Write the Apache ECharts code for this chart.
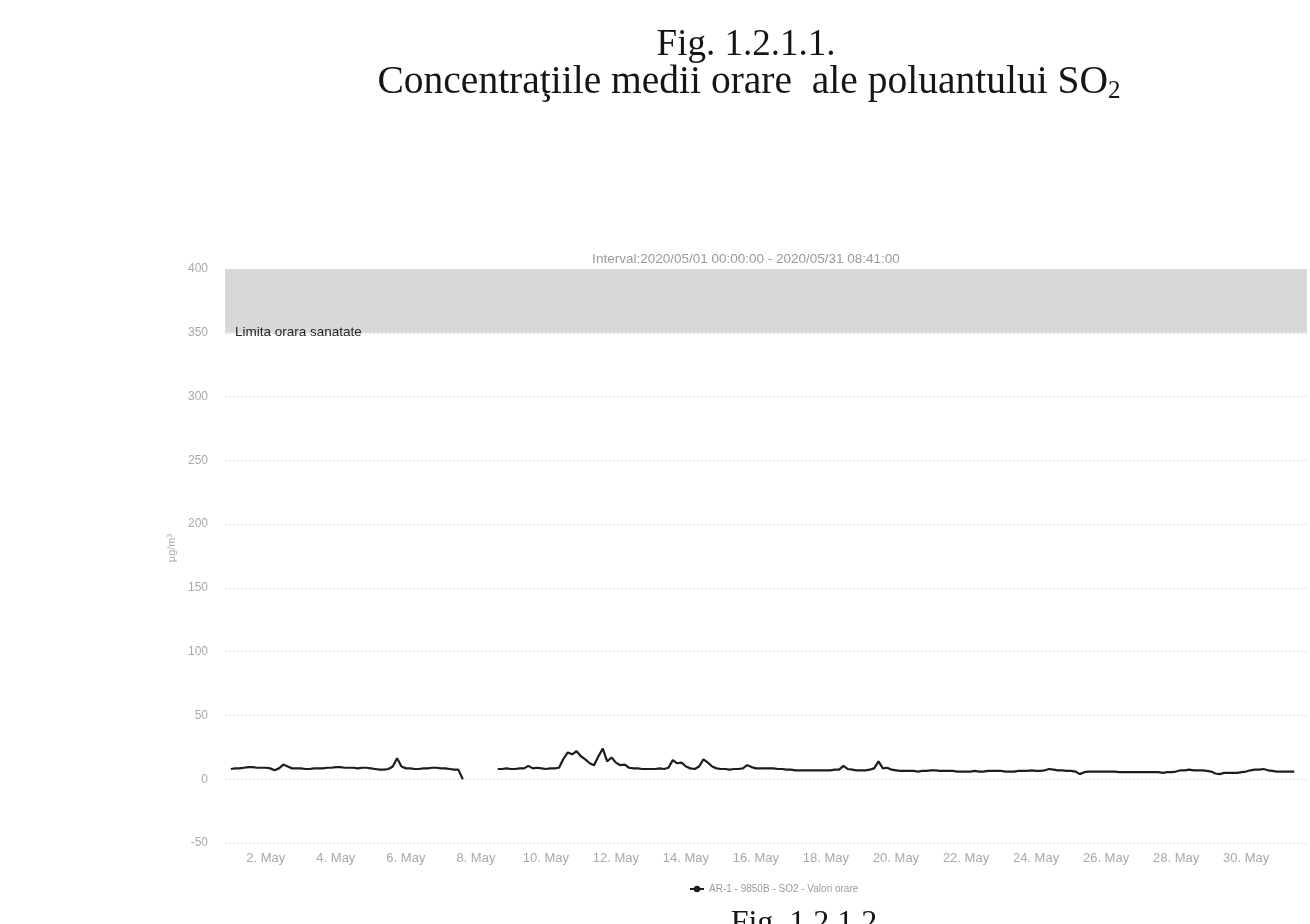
<!DOCTYPE html>
<html>
<head>
<meta charset="utf-8">
<script src="https://cdn.jsdelivr.net/npm/echarts@6/dist/echarts.min.js"></script>
<style>
html,body{margin:0;padding:0;background:#fff;}
#chart{width:1310px;height:924px;}
</style>
</head>
<body>
<div id="chart"></div>
<script>
// ---- data (SO2 hourly averages, read every 3 hours starting 2020/05/01 00:00) ----
const stepHours = 3;
const seriesName = 'AR-1 - 9850B - SO2 - Valori orare';
const monthLabel = 'May';
const yTicks = [-50, 0, 50, 100, 150, 200, 250, 300, 350, 400];
const limitBand = [350, 400];
const limitLabel = 'Limita orara sanatate';
const intervalText = 'Interval:2020/05/01 00:00:00 - 2020/05/31 08:41:00';
const so2 = [
  // May 1
  8, 8.5, 8.5, 9, 9.5, 9.5, 9, 9,
  // May 2
  9, 8.5, 7, 8.5, 11.5, 10, 8.5, 8.5,
  // May 3
  8.5, 8, 8, 8.5, 8.5, 8.5, 9, 9,
  // May 4
  9.5, 9.5, 9, 9, 9, 8.5, 9, 9,
  // May 5
  8.5, 8, 7.5, 7.5, 8, 10, 16.5, 10,
  // May 6
  8.5, 8.5, 8, 8, 8.5, 8.5, 9, 9,
  // May 7
  8.5, 8.5, 8, 7.5, 7.5, 0, null, null,
  // May 8
  null, null, null, null, null, 8, 8, 8.5,
  // May 9
  8, 8, 8.5, 8.5, 10.5, 8.5, 9, 8.5,
  // May 10
  8, 8.5, 8.5, 9, 16, 21, 19.5, 22,
  // May 11
  18, 15.5, 12.5, 11, 18, 24, 14, 17,
  // May 12
  13, 11, 11.5, 9, 8.5, 8.5, 8, 8,
  // May 13
  8, 8, 8.5, 8, 9, 15, 12.5, 13,
  // May 14
  10, 8.5, 8, 10, 15.5, 13, 10, 8.5,
  // May 15
  8, 8, 7.5, 8, 8, 8.5, 11, 9.5,
  // May 16
  8.5, 8.5, 8.5, 8.5, 8.5, 8, 8, 7.5,
  // May 17
  7.5, 7, 7, 7, 7, 7, 7, 7,
  // May 18
  7, 7, 7.5, 7.5, 10.5, 8, 7.5, 7,
  // May 19
  7, 7, 7.5, 8.5, 14, 8.5, 9, 7.5,
  // May 20
  7, 6.5, 6.5, 6.5, 6.5, 6, 6.5, 6.5,
  // May 21
  7, 7, 6.5, 6.5, 6.5, 6.5, 6, 6,
  // May 22
  6, 6, 6.5, 6, 6, 6.5, 6.5, 6.5,
  // May 23
  6.5, 6, 6, 6, 6.5, 6.5, 6.5, 7,
  // May 24
  6.5, 6.5, 7, 8, 7.5, 7, 7, 6.5,
  // May 25
  6.5, 6, 4, 5.5, 6, 6, 6, 6,
  // May 26
  6, 6, 6, 5.5, 5.5, 5.5, 5.5, 5.5,
  // May 27
  5.5, 5.5, 5.5, 5.5, 5.5, 5, 5.5, 5.5,
  // May 28
  6, 7, 7, 7.5, 7, 7, 7, 6.5,
  // May 29
  6, 4.5, 4, 5, 5, 5, 5, 5.5,
  // May 30
  6, 7, 7.5, 7.5, 8, 7, 6.5, 6,
  // May 31
  6, 6, 6, 6
];

// x in days since 2020/05/01 00:00
const lineData = so2.map((v, i) => [i * stepHours / 24, v]);

const chart = echarts.init(document.getElementById('chart'), null, {renderer: 'canvas'});
const sans = 'Liberation Sans, Arial, sans-serif';
const serif = 'Liberation Serif, Times New Roman, serif';

chart.setOption({
  backgroundColor: '#ffffff',
  animation: false,
  title: [
    {
      text: 'Fig. 1.2.1.1.',
      left: 741, textAlign: 'center', top: 22,
      textStyle: {fontFamily: serif, fontSize: 37, fontWeight: 'normal', color: '#151515'}
    },
    {
      text: 'Concentraţiile medii orare  ale poluantului SO{sub|2}',
      left: 744, textAlign: 'center', top: 56,
      textStyle: {
        fontFamily: serif, fontSize: 39.5, fontWeight: 'normal', color: '#151515',
        rich: {sub: {fontFamily: serif, fontSize: 25, color: '#151515', verticalAlign: 'bottom', padding: [18, 0, 0, 0]}}
      }
    },
    {
      text: intervalText,
      left: 741, textAlign: 'center', top: 247,
      textStyle: {fontFamily: sans, fontSize: 13.5, fontWeight: 'normal', color: '#9a9a9a'}
    },
    {
      text: 'Fig. 1.2.1.2.',
      left: 803, textAlign: 'center', top: 903,
      textStyle: {fontFamily: serif, fontSize: 32, fontWeight: 'normal', color: '#151515'}
    }
  ],
  legend: {
    data: [seriesName],
    left: 684, top: 879,
    textStyle: {fontFamily: sans, fontSize: 10, color: '#9a9a9a'},
    itemWidth: 14, itemHeight: 8,
    itemGap: 5
  },
  grid: {left: 225, right: 0, top: 269, bottom: 924 - 843},
  xAxis: {
    type: 'value',
    min: -1 / 6,
    max: 30.74,
    interval: 1 / 6,
    axisLine: {show: false},
    axisTick: {show: false},
    splitLine: {show: false},
    axisLabel: {
      fontFamily: sans, fontSize: 13, color: '#a8a8a8', margin: 9,
      formatter: function (v) {
        const d = Math.round(v);
        if (Math.abs(v - d) < 0.01 && d >= 0 && d % 2 === 1) {
          return (d + 1) + '. ' + monthLabel;
        }
        return '';
      }
    }
  },
  yAxis: {
    type: 'value',
    min: yTicks[0],
    max: yTicks[yTicks.length - 1],
    interval: 50,
    name: 'µg/m³',
    nameLocation: 'middle',
    nameRotate: 90,
    nameGap: 48,
    nameTextStyle: {fontFamily: sans, fontSize: 11, color: '#a8a8a8', padding: [0, 0, 0, 16]},
    axisLine: {show: false},
    axisTick: {show: false},
    axisLabel: {fontFamily: sans, fontSize: 12, color: '#a8a8a8', margin: 17},
    splitLine: {show: true, lineStyle: {color: '#dedede', type: [2, 2], width: 1}}
  },
  series: [{
    name: seriesName,
    type: 'line',
    data: lineData,
    showSymbol: false,
    symbol: 'circle',
    symbolSize: 6,
    connectNulls: false,
    itemStyle: {color: '#1e1e1e'},
    lineStyle: {color: '#1e1e1e', width: 2.2},
    markArea: {
      silent: true,
      itemStyle: {color: '#d8d8d8'},
      label: {
        show: true,
        position: [10, '100%'],
        align: 'left',
        verticalAlign: 'middle',
        fontFamily: sans, fontSize: 13.5, color: '#262626'
      },
      data: [[{name: limitLabel, yAxis: limitBand[0]}, {yAxis: limitBand[1]}]]
    }
  }]
});
</script>
</body>
</html>
